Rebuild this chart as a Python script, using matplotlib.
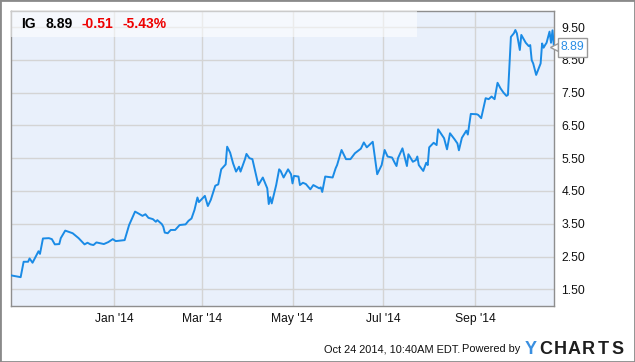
import matplotlib
matplotlib.use("Agg")
import matplotlib.pyplot as plt
import matplotlib.dates as mdates
from matplotlib.patches import Rectangle
from matplotlib.ticker import FixedLocator, FormatStrFormatter
import numpy as np
import pandas as pd

plt.rcParams['font.family'] = ['Liberation Sans', 'DejaVu Sans']

# IG closing prices
dates = [
    "2013-10-24", "2013-10-30", "2013-11-01", "2013-11-04", "2013-11-05", "2013-11-07",
    "2013-11-11", "2013-11-12", "2013-11-14", "2013-11-18", "2013-11-20", "2013-11-22",
    "2013-11-25", "2013-11-26", "2013-11-29", "2013-12-04", "2013-12-08", "2013-12-12",
    "2013-12-14", "2013-12-16", "2013-12-18", "2013-12-20", "2013-12-23", "2013-12-25",
    "2013-12-28", "2013-12-31", "2014-01-02", "2014-01-08", "2014-01-11", "2014-01-15",
    "2014-01-17", "2014-01-20", "2014-01-22", "2014-01-24", "2014-01-27", "2014-01-29",
    "2014-01-30", "2014-02-02", "2014-02-03", "2014-02-04", "2014-02-06", "2014-02-08",
    "2014-02-11", "2014-02-14", "2014-02-18", "2014-02-20", "2014-02-22", "2014-02-24",
    "2014-02-26", "2014-02-27", "2014-03-03", "2014-03-05", "2014-03-07", "2014-03-10",
    "2014-03-12", "2014-03-14", "2014-03-17", "2014-03-18", "2014-03-20", "2014-03-22",
    "2014-03-24", "2014-03-26", "2014-03-27", "2014-03-30", "2014-03-31", "2014-04-02",
    "2014-04-04", "2014-04-08", "2014-04-11", "2014-04-14", "2014-04-15", "2014-04-16",
    "2014-04-17", "2014-04-20", "2014-04-22", "2014-04-23", "2014-04-25", "2014-04-28",
    "2014-04-30", "2014-05-01", "2014-05-02", "2014-05-05", "2014-05-06", "2014-05-08",
    "2014-05-10", "2014-05-13", "2014-05-15", "2014-05-19", "2014-05-20", "2014-05-21",
    "2014-05-23", "2014-05-28", "2014-05-30", "2014-05-31", "2014-06-03", "2014-06-06",
    "2014-06-09", "2014-06-12", "2014-06-16", "2014-06-18", "2014-06-20", "2014-06-24",
    "2014-06-27", "2014-06-30", "2014-07-02", "2014-07-04", "2014-07-07", "2014-07-09",
    "2014-07-10", "2014-07-11", "2014-07-14", "2014-07-17", "2014-07-18", "2014-07-21",
    "2014-07-23", "2014-07-24", "2014-07-25", "2014-07-28", "2014-07-30", "2014-07-31",
    "2014-08-01", "2014-08-04", "2014-08-06", "2014-08-07", "2014-08-11", "2014-08-13",
    "2014-08-15", "2014-08-18", "2014-08-20", "2014-08-21", "2014-08-23", "2014-08-26",
    "2014-08-27", "2014-08-29", "2014-09-02", "2014-09-03", "2014-09-05", "2014-09-08",
    "2014-09-10", "2014-09-12", "2014-09-14", "2014-09-16", "2014-09-18", "2014-09-20",
    "2014-09-22", "2014-09-23", "2014-09-25", "2014-09-27", "2014-09-28", "2014-09-29",
    "2014-10-01", "2014-10-02", "2014-10-05", "2014-10-07", "2014-10-08", "2014-10-09",
    "2014-10-10", "2014-10-12", "2014-10-15", "2014-10-16", "2014-10-17", "2014-10-18",
    "2014-10-19", "2014-10-21", "2014-10-22", "2014-10-23", "2014-10-24",
]
prices = [
    1.92, 1.87, 2.34, 2.34, 2.44, 2.31,
    2.66, 2.58, 3.05, 3.06, 3.03, 2.87,
    2.88, 3.06, 3.29, 3.21, 3.06, 2.87,
    2.92, 2.87, 2.85, 2.93, 2.90, 2.88,
    2.94, 3.03, 2.97, 3.00, 3.46, 3.87,
    3.82, 3.74, 3.79, 3.68, 3.64, 3.56,
    3.61, 3.49, 3.41, 3.23, 3.21, 3.31,
    3.31, 3.46, 3.48, 3.59, 3.66, 3.92,
    4.30, 4.16, 4.35, 4.04, 4.23, 4.66,
    4.70, 5.16, 5.31, 5.85, 5.67, 5.34,
    5.09, 5.24, 5.09, 5.47, 5.63, 5.50,
    5.47, 4.68, 4.91, 4.58, 4.10, 4.31,
    4.12, 4.68, 5.16, 5.11, 4.91, 5.16,
    5.01, 4.73, 4.96, 4.94, 4.68, 4.75,
    4.71, 4.55, 4.68, 4.58, 4.61, 4.47,
    4.94, 4.91, 5.19, 5.29, 5.75, 5.47,
    5.47, 5.65, 5.79, 5.98, 5.83, 6.00,
    5.01, 5.29, 5.75, 5.55, 5.52, 5.34,
    5.26, 5.50, 5.80, 5.26, 5.62, 5.39,
    5.44, 5.55, 5.29, 5.11, 5.36, 5.29,
    5.83, 5.97, 5.90, 6.38, 6.11, 5.77,
    6.26, 6.08, 5.95, 5.74, 6.12, 6.34,
    6.22, 6.85, 6.84, 6.82, 6.72, 7.33,
    7.30, 7.38, 7.30, 7.80, 7.63, 7.50,
    7.40, 7.43, 9.20, 9.31, 9.41, 9.31,
    8.80, 9.26, 9.02, 8.92, 8.95, 8.49,
    8.39, 8.04, 8.39, 9.00, 8.87, 8.95,
    9.02, 9.36, 9.02, 9.40, 8.89,
]
y_ticks = [1.5, 2.5, 3.5, 4.5, 5.5, 6.5, 7.5, 8.5, 9.5]
x_ticks = ["2014-01-01", "2014-03-01", "2014-05-01", "2014-07-01", "2014-09-01"]

ticker = "IG"
last_price = "8.89"
change = "-0.51"
change_pct = "-5.43%"

W, H = 635, 362


def fx(x):
    return x / W


def fy(y):
    return 1 - y / H


fig = plt.figure(figsize=(W / 100, H / 100), dpi=100)
left, right, top, bottom = 11, 554.3, 11, 306
ax = fig.add_axes([fx(left), fy(bottom), fx(right - left), (bottom - top) / H])
ax.set_facecolor('#e9f0fb')

d = pd.to_datetime(dates)
ax.plot(d, prices, color='#1a8be6', lw=1.4, zorder=3)

ax.set_xlim(pd.Timestamp("2013-10-23 12:00"), pd.Timestamp("2014-10-24 05:00"))
ax.set_ylim(0.99, 9.99)

ax.xaxis.set_major_locator(FixedLocator(mdates.date2num(pd.to_datetime(x_ticks))))
ax.xaxis.set_major_formatter(mdates.DateFormatter("%b '%y"))
ax.yaxis.set_major_locator(FixedLocator(y_ticks))
ax.yaxis.set_major_formatter(FormatStrFormatter('%.2f'))
ax.yaxis.tick_right()
ax.tick_params(axis='both', length=0, labelsize=8.7, colors='#111111')
ax.tick_params(axis='x', pad=5)
ax.tick_params(axis='y', pad=5)
ax.grid(True, color='#d4d4d4', lw=1.0, zorder=1)
ax.set_axisbelow(True)
for s in ax.spines.values():
    s.set_color('#8e8e8e')
    s.set_linewidth(1.0)

# lighter header band
fig.patches.append(Rectangle((fx(left), fy(37)), fx(417 - left), (37 - top) / H,
                             transform=fig.transFigure, fc='white', ec='none',
                             alpha=0.55, zorder=2))

# header text
hy = fy(24)
fig.text(fx(21), hy, ticker, fontsize=10, fontweight='bold', color='black', va='center')
fig.text(fx(45), hy, last_price, fontsize=10, fontweight='bold', color='black', va='center')
fig.text(fx(81.5), hy, change, fontsize=10, fontweight='bold', color='#ee0000', va='center')
fig.text(fx(122.5), hy, change_pct, fontsize=10, fontweight='bold', color='#ee0000', va='center')

# last value flag
ax.annotate(last_price, xy=(d[-1], prices[-1]), xytext=(fx(572.5), fy(47.5)),
            textcoords='figure fraction', ha='center', va='center',
            fontsize=8.7, color='#2a8ee6', zorder=5, annotation_clip=False,
            bbox=dict(boxstyle='square,pad=0.25', fc='white', ec='#9a9a9a', lw=1.0))
ax.plot([d[-1]], [prices[-1]], marker='<', ms=6, mfc='white', mec='#9a9a9a',
        mew=1.0, clip_on=False, zorder=4, transform=ax.transData)

# footer
fig.text(fx(324), fy(349), "Oct 24 2014, 10:40AM EDT.", fontsize=7.9, color='#111111', va='center')
fig.text(fx(462), fy(349), "Powered by", fontsize=7.9, color='#111111', va='center')
logo = "YCHARTS"
for i, ch in enumerate(logo):
    fig.text(fx(531 + i * 14.4), fy(349), ch, fontsize=13, fontweight='bold', ha='center',
             color='#3a8fe0' if i == 0 else '#1e1e1e', va='center')

# outer frame
fig.patches.append(Rectangle((0, 0), 1, 1, transform=fig.transFigure, fc='none',
                             ec='#8a8a8a', lw=2.0, zorder=10))

fig.savefig("out.png", dpi=100)
